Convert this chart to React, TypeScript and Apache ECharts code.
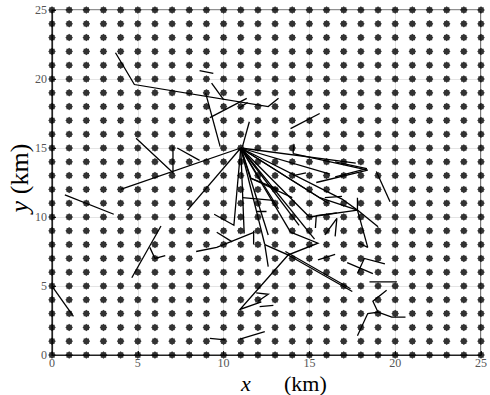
import React, { useEffect, useRef } from "react";
import * as echarts from "echarts";

// Station lattice (km)
const gridX = [0, 1, 2, 3, 4, 5, 6, 7, 8, 9, 10, 11, 12, 13, 14, 15, 16, 17, 18, 19, 20, 21, 22, 23, 24, 25];
const gridY = [0, 1, 2, 3, 4, 5, 6, 7, 8, 9, 10, 11, 12, 13, 14, 15, 16, 17, 18, 19, 20, 21, 22, 23, 24, 25];

// Hub location (km)
const hub = [11, 15];

// Paths radiating from the hub
const hubTargets: number[][][] = [
  [[4, 12]],
  [[7.9, 10.5]],
  [[10.6, 9.4], [9.45, 10.2]],
  [[11.2, 8.8]],
  [[12.6, 8.7]],
  [[12.4, 8.0]],
  [[13.9, 8.9]],
  [[13.2, 10.6]],
  [[14.4, 9.4]],
  [[15.3, 8.4]],
  [[15.0, 10.0], [17.8, 10.5]],
  [[15.6, 11.4], [17.8, 10.5]],
  [[16.1, 11.0]],
  [[16.9, 11.3], [17.8, 10.5]],
  [[11.6, 12.8], [14.0, 11.4]],
  [[17.7, 13.9]],
  [[16.2, 13.1]],
];

// Other link polylines (km)
const links: number[][][] = [
  [[3.7, 21.9], [4.8, 19.6], [12.6, 18.0], [13.2, 18.6]],
  [[8.6, 20.6], [9.4, 20.4]],
  [[9.3, 19.7], [10.0, 18.5]],
  [[8.95, 19.0], [9.8, 15.1]],
  [[9.2, 17.2], [11.35, 18.6]],
  [[10.9, 17.9], [11.4, 18.3]],
  [[11.5, 16.9], [11.1, 15.1]],
  [[13.9, 16.4], [15.6, 17.5]],
  [[14.05, 14.6], [14.1, 15.3]],
  [[14.05, 14.6], [18.4, 13.4], [15.4, 12.5]],
  [[16.5, 14.0], [18.35, 13.5]],
  [[16.5, 12.9], [18.35, 13.5]],
  [[14.05, 13.0], [14.8, 13.2]],
  [[18.9, 13.3], [19.7, 11.1]],
  [[0.75, 11.6], [3.6, 10.2]],
  [[4.9, 15.7], [7.05, 13.2], [7.05, 15.1]],
  [[7.3, 15.0], [8.6, 14.1]],
  [[4.65, 5.6], [6.35, 9.35]],
  [[5.7, 7.8], [6.0, 7.0], [6.6, 7.2]],
  [[0.05, 4.9], [1.25, 2.8]],
  [[11.6, 12.8], [13.2, 12.0]],
  [[11.1, 11.4], [12.9, 11.2]],
  [[11.9, 10.4], [12.5, 10.4]],
  [[8.4, 7.5], [9.6, 7.8], [11.8, 8.9]],
  [[9.6, 8.9], [10.5, 8.2]],
  [[11.75, 8.0], [11.75, 9.0]],
  [[12.4, 8.0], [13.76, 7.25], [15.5, 8.1], [13.9, 8.9]],
  [[12.4, 8.0], [12.6, 6.4]],
  [[13.76, 7.25], [17.5, 4.6]],
  [[13.6, 7.5], [17.4, 4.8]],
  [[13.76, 7.25], [10.95, 3.3], [12.2, 3.85]],
  [[11.9, 4.5], [12.6, 4.4], [12.0, 3.9]],
  [[12.1, 3.5], [12.9, 3.6]],
  [[9.2, 1.2], [10.1, 1.1]],
  [[10.95, 1.15], [12.4, 1.7]],
  [[15.5, 6.9], [16.5, 7.3]],
  [[17.2, 6.7], [18.7, 5.9]],
  [[17.8, 5.9], [18.2, 7.0], [19.4, 6.6]],
  [[18.5, 5.3], [20.1, 5.3]],
  [[19.5, 4.7], [18.7, 3.9], [19.0, 3.1], [18.4, 3.0], [17.8, 1.4]],
  [[19.0, 3.1], [19.8, 2.75], [20.6, 2.75]],
  [[17.8, 11.4], [17.8, 10.5]],
  [[17.8, 10.5], [19.0, 9.3]],
  [[17.8, 10.5], [18.4, 7.8]],
  [[17.9, 8.1], [18.4, 7.8]],
  [[15.9, 11.4], [16.9, 11.5]],
  [[15.9, 8.7], [16.6, 9.9]],
  [[16.5, 8.6], [16.6, 9.9]],
  [[15.4, 10.1], [16.6, 10.3]],
  [[15.35, 9.2], [15.4, 10.1]],
];

// Eight-pointed asterisk marker
function starPath(): string {
  const parts: string[] = [];
  for (let i = 0; i < 16; i++) {
    const r = i % 2 === 0 ? 10 : 8;
    const a = (i * Math.PI) / 8 - Math.PI / 2;
    const x = (10 + r * Math.cos(a)).toFixed(2);
    const y = (10 + r * Math.sin(a)).toFixed(2);
    parts.push((i === 0 ? "M" : "L") + x + " " + y);
  }
  return "path://" + parts.join(" ") + " Z";
}

export default function App() {
  const ref = useRef<HTMLDivElement>(null);

  useEffect(() => {
    if (!ref.current) return;
    const chart = echarts.init(ref.current, undefined, { renderer: "svg" });

    const points: number[][] = [];
    for (const x of gridX) for (const y of gridY) points.push([x, y]);

    const lineData = [
      ...hubTargets.map((t) => ({ coords: [hub, ...t] })),
      ...links.map((l) => ({ coords: l })),
    ];

    const serif = "'Liberation Serif', 'DejaVu Serif', serif";
    const axisCommon = {
      type: "value" as const,
      min: 0,
      max: 25,
      interval: 5,
      axisLine: { show: true, lineStyle: { color: "#222", width: 1.2 } },
      axisTick: { show: true, inside: true, length: 4, lineStyle: { color: "#222" } },
      splitLine: { show: true, lineStyle: { color: "#e4e4e4", width: 1 } },
      axisLabel: { color: "#555", fontFamily: serif, fontSize: 12 },
    };

    const labelText = (text: string, x: number, style: "i" | "n") => ({
      type: "text",
      x,
      y: 383,
      style: {
        text: `{${style}|${text}}`,
        verticalAlign: "middle",
        rich: {
          i: { font: `italic 22px ${serif}`, fill: "#000", lineHeight: 20 },
          n: { font: `22px ${serif}`, fill: "#000", lineHeight: 20 },
        },
      },
    });

    chart.setOption({
      animation: false,
      grid: {
        left: 52,
        right: 2,
        top: 10,
        bottom: 40,
        show: true,
        borderColor: "#222",
        borderWidth: 1.2,
        backgroundColor: "#fff",
      },
      xAxis: { ...axisCommon, axisLabel: { ...axisCommon.axisLabel, margin: 2 } },
      yAxis: { ...axisCommon, axisLabel: { ...axisCommon.axisLabel, margin: 5 } },
      series: [
        {
          type: "lines",
          coordinateSystem: "cartesian2d",
          polyline: true,
          silent: true,
          lineStyle: { color: "#000", width: 1.3, opacity: 1 },
          data: lineData,
          z: 3,
        },
        {
          type: "scatter",
          symbol: starPath(),
          symbolSize: 7.5,
          itemStyle: { color: "#000" },
          data: points,
          silent: true,
          z: 4,
        },
      ],
      graphic: [
        labelText("x", 241, "i"),
        labelText("(km)", 284, "n"),
        {
          type: "text",
          x: 6,
          y: 178,
          rotation: Math.PI / 2,
          style: {
            text: "{i|y}  {n|(km)}",
            align: "center",
            verticalAlign: "top",
            rich: {
              i: { font: `italic 26px ${serif}`, fill: "#000" },
              n: { font: `26px ${serif}`, fill: "#000" },
            },
          },
        },
      ],
    });

    return () => chart.dispose();
  }, []);

  return (
    <div
      ref={ref}
      style={{ position: "fixed", left: 0, top: 0, width: 490, height: 395, background: "#fff" }}
    />
  );
}
